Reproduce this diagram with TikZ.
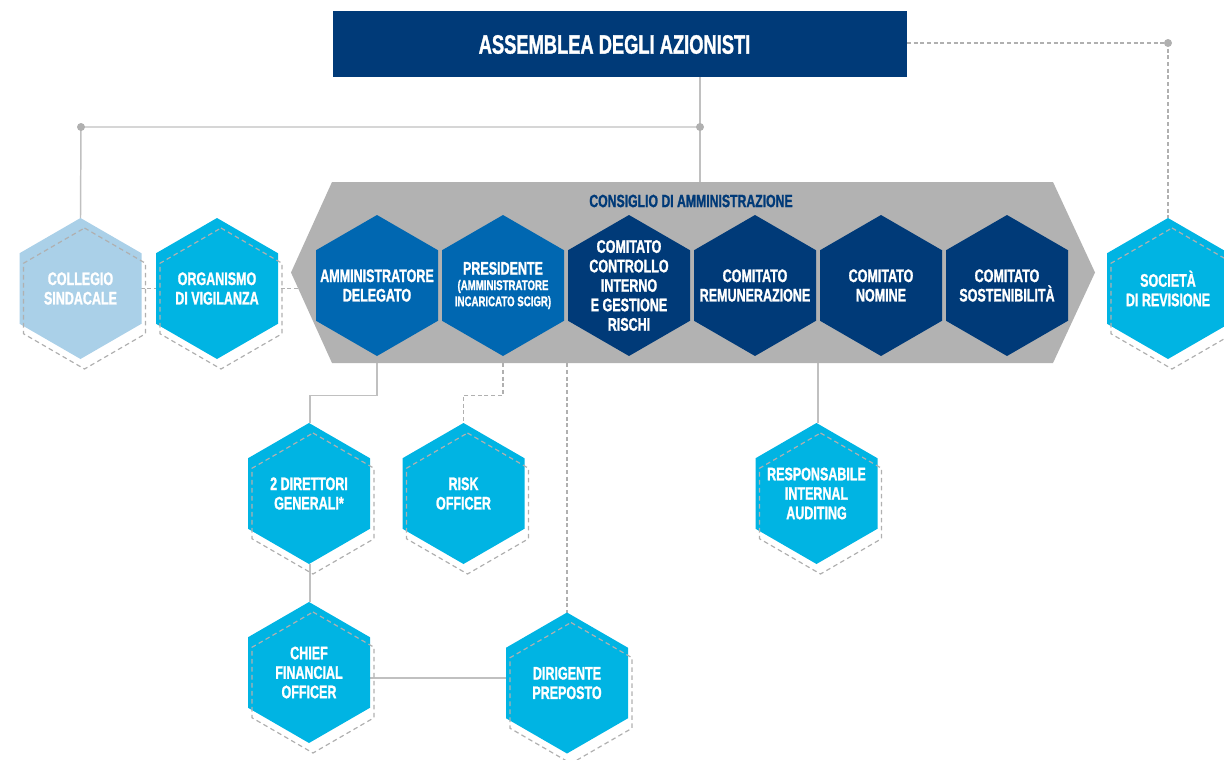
\documentclass[tikz,border=0pt]{standalone}
\usepackage{fontspec}
\setmainfont{Liberation Sans}
\newfontfamily\condfont{Liberation Sans}[FakeStretch=0.69, BoldFeatures={FakeBold=1.2}]
\usetikzlibrary{calc,backgrounds}

\definecolor{navy}{RGB}{0,58,120}
\definecolor{midblue}{RGB}{0,103,177}
\definecolor{cyanblue}{RGB}{0,180,227}
\definecolor{paleblue}{RGB}{170,208,232}
\definecolor{bandgray}{RGB}{178,178,178}
\definecolor{linegray}{RGB}{192,192,192}
\definecolor{dashgray}{RGB}{176,176,176}

\newcommand\smallcap{\fontsize{10.5}{11}\selectfont}

\tikzset{
  hexcell/.style={rectangle, draw=none, inner sep=0pt, outer sep=0pt,
    minimum width=91.5pt, minimum height=105.75pt, align=center, text=white,
    font=\condfont\bfseries\fontsize{13.6}{14.6}\selectfont,
    path picture={\fill[#1]
      (path picture bounding box.north)
      -- ([yshift=-26.44pt]path picture bounding box.north east)
      -- ([yshift=26.44pt]path picture bounding box.south east)
      -- (path picture bounding box.south)
      -- ([yshift=26.44pt]path picture bounding box.south west)
      -- ([yshift=-26.44pt]path picture bounding box.north west) -- cycle;}},
  hexdash/.style={draw=dashgray, line width=0.9pt, dash pattern=on 3.5pt off 2.5pt},
  link/.style={draw=linegray, line width=1.1pt},
  dlink/.style={draw=dashgray, line width=0.8pt, dash pattern=on 3pt off 2pt},
  joint/.style={fill=dashgray},
}

\begin{document}
\begin{tikzpicture}[x=0.75pt,y=-0.75pt]
\useasboundingbox (0,0) rectangle (1224,760);

% shareholders' meeting banner
\node[rectangle, fill=navy, minimum width=430.5pt, minimum height=49.5pt,
      inner sep=0pt, outer sep=0pt] (asm) at (620,44) {};
\node[text=white, inner sep=0pt, font=\condfont\bfseries\fontsize{19.9}{22}\selectfont]
  (asmtitle) at (614.5,44.5) {ASSEMBLEA DEGLI AZIONISTI};

% board band
\node[rectangle, draw=none, inner sep=0pt, minimum width=603pt, minimum height=135.75pt,
  path picture={\fill[bandgray]
    (path picture bounding box.west)
    -- ([xshift=30.75pt]path picture bounding box.north west)
    -- ([xshift=-31.5pt]path picture bounding box.north east)
    -- (path picture bounding box.east)
    -- ([xshift=-31.5pt]path picture bounding box.south east)
    -- ([xshift=30.75pt]path picture bounding box.south west) -- cycle;}]
  (cda) at (693,272.5) {};
\node[text=navy, font=\condfont\bfseries\fontsize{13.3}{15}\selectfont, inner sep=0pt]
  (cdatitle) at (691,201) {CONSIGLIO DI AMMINISTRAZIONE};

% board members and committees
\node[hexcell=midblue] (amm) at (377,285.5) {AMMINISTRATORE\\DELEGATO};
\node[hexcell=midblue] (pres) at (503,285.5)
  {PRESIDENTE\\[-3pt]{\smallcap (AMMINISTRATORE}\\[-2.5pt]{\smallcap INCARICATO SCIGR)}};
\node[hexcell=navy] (ccr) at (629,285.5) {COMITATO\\CONTROLLO\\INTERNO\\E GESTIONE\\RISCHI};
\node[hexcell=navy] (rem) at (755,285.5) {COMITATO\\REMUNERAZIONE};
\node[hexcell=navy] (nom) at (881,285.5) {COMITATO\\NOMINE};
\node[hexcell=navy] (sost) at (1007,285.5) {COMITATO\\SOSTENIBILITÀ};

% control bodies
\node[hexcell=paleblue] (coll) at (80.5,288.5) {COLLEGIO\\SINDACALE};
\node[hexcell=cyanblue] (org) at (217,288.5) {ORGANISMO\\DI VIGILANZA};
\node[hexcell=cyanblue] (soc) at (1168,288.5) {SOCIETÀ\\DI REVISIONE};

% management functions
\node[hexcell=cyanblue] (dg) at (309,493.5) {2 DIRETTORI\\GENERALI*};
\node[hexcell=cyanblue] (risk) at (463.5,493.5) {RISK\\OFFICER};
\node[hexcell=cyanblue] (resp) at (816.5,493.5) {RESPONSABILE\\INTERNAL\\AUDITING};
\node[hexcell=cyanblue] (cfo) at (309,672.5) {CHIEF\\FINANCIAL\\OFFICER};
\node[hexcell=cyanblue] (dirig) at (567,683) {DIRIGENTE\\PREPOSTO};

% dashed shadows of the outer cells
\foreach \n in {coll,org,soc,dg,risk,resp,cfo,dirig}{
  \draw[hexdash] ([shift={(3pt,-7.5pt)}]\n.north)
    -- ([shift={(3pt,-33.94pt)}]\n.north east)
    -- ([shift={(3pt,18.94pt)}]\n.south east)
    -- ([shift={(3pt,-7.5pt)}]\n.south)
    -- ([shift={(3pt,18.94pt)}]\n.south west)
    -- ([shift={(3pt,-33.94pt)}]\n.north west) -- cycle;
}

\coordinate (j1) at (700,127);
\coordinate (j2) at (81,127);
\coordinate (j3) at (1168,43);

\begin{pgfonlayer}{background}
  % reporting lines
  \draw[link] (asm.south -| j1) -- (j1) -- (j1 |- cda.north);
  \draw[link] (j1) -- (j2) -- (coll.north);
  \draw[dlink] (asm.east |- j3) -- (j3) -- (soc.north);
  \draw[dlink] (coll.center) -- ($(coll.center -| cda.west)+(14,0)$);
  \draw[link] (amm |- cda.south) -- ++(0,32) -| ([xshift=0.75pt]dg.north);
  \draw[dlink] (pres |- cda.south) -- ++(0,32) -| (risk.north);
  \draw[dlink] (dirig |- cda.south) -- (dirig.north);
  \draw[link] ([xshift=1.1pt]resp |- cda.south) -- ([xshift=1.1pt]resp.north);
  \draw[link] ([xshift=0.75pt]dg.south) -- ([xshift=0.75pt]cfo.north);
  \draw[link] ([yshift=-4pt]cfo.east) -- ([yshift=-4pt]cfo.east -| dirig.west);
\end{pgfonlayer}

\fill[joint] (j1) circle[radius=4];
\fill[joint] (j2) circle[radius=4];
\fill[joint] (j3) circle[radius=4];
\end{tikzpicture}
\end{document}
